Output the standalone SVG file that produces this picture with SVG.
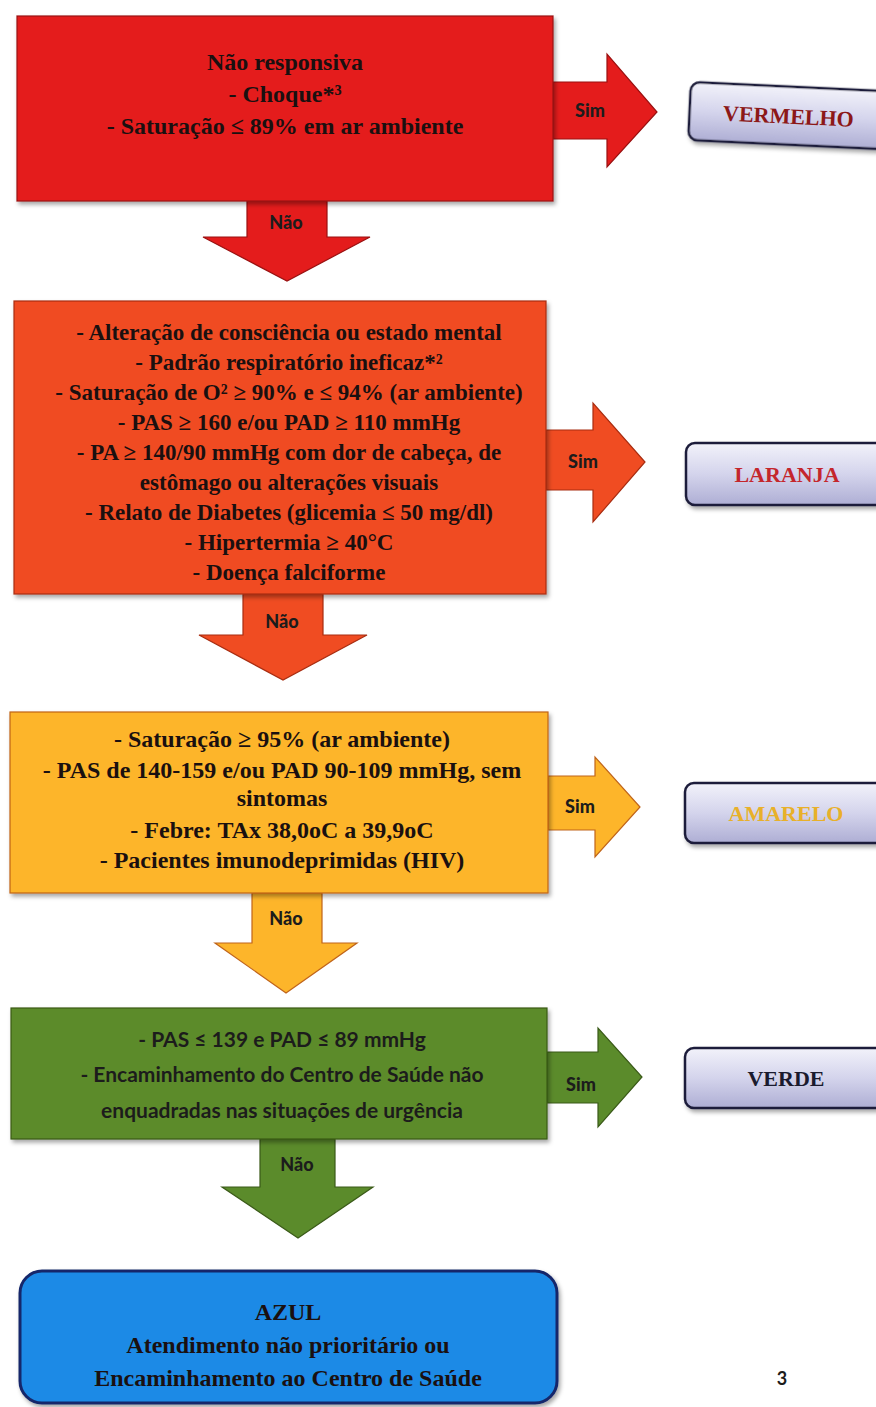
<svg xmlns="http://www.w3.org/2000/svg" width="876" height="1407" viewBox="0 0 876 1407">
<defs>
  <linearGradient id="lbl" x1="0" y1="0" x2="0" y2="1">
    <stop offset="0" stop-color="#f2f2fa"/>
    <stop offset="0.5" stop-color="#d4d4ec"/>
    <stop offset="1" stop-color="#aeaed4"/>
  </linearGradient>
  <filter id="sh" x="-10%" y="-10%" width="130%" height="130%">
    <feDropShadow dx="2" dy="3" stdDeviation="2" flood-color="#000" flood-opacity="0.35"/>
  </filter>
  <style>
    .serif{font-family:"Liberation Serif","Times New Roman",serif;font-weight:bold;text-anchor:middle;fill:#1a1010}
    .sans{font-family:Lato,"Open Sans","Liberation Sans",sans-serif;font-weight:bold;text-anchor:middle;fill:#1c1c1c}
    .t23{font-size:23px}
    .t24{font-size:24px}
    .lab{font-size:18px;font-weight:900}
    .lbox{fill:url(#lbl);stroke:#1e1e3a;stroke-width:2.5;filter:url(#sh)}
    .red{fill:#e41c1c;stroke:#9a1010;stroke-width:1.2}
    .orange{fill:#f04c22;stroke:#a82c10;stroke-width:1.2}
    .yellow{fill:#fdb52a;stroke:#c0641a;stroke-width:1.2}
    .green{fill:#5b8b2b;stroke:#3a5a18;stroke-width:1.2}
  </style>
</defs>
<rect width="876" height="1407" fill="#ffffff"/>

<g id="connectors">
  <g id="red-sim">
    <polygon class="red" points="553,82 607,82 607,54 657,112 607,167 607,139 553,139"/>
    <text class="sans lab" x="590" y="117">Sim</text>
  </g>
  <g id="red-nao">
    <polygon class="red" points="247,201 327,201 327,237 370,237 287,281 203,237 247,237"/>
    <text class="sans lab" x="286" y="229">Não</text>
  </g>
  <g id="orange-sim">
    <polygon class="orange" points="546,430 593,430 593,403 645,462 593,522 593,490 546,490"/>
    <text class="sans lab" x="583" y="468">Sim</text>
  </g>
  <g id="orange-nao">
    <polygon class="orange" points="243,594 323,594 323,635 367,635 283,680 199,635 243,635"/>
    <text class="sans lab" x="282" y="628">Não</text>
  </g>
  <g id="yellow-sim">
    <polygon class="yellow" points="548,776 595,776 595,757 640,807 595,857 595,830 548,830"/>
    <text class="sans lab" x="580" y="813">Sim</text>
  </g>
  <g id="yellow-nao">
    <polygon class="yellow" points="252,893 322,893 322,943 357,943 286,993 215,943 252,943"/>
    <text class="sans lab" x="286" y="925">Não</text>
  </g>
  <g id="green-sim">
    <polygon class="green" points="547,1052 598,1052 598,1028 642,1077 598,1127 598,1103 547,1103"/>
    <text class="sans lab" x="581" y="1091">Sim</text>
  </g>
  <g id="green-nao">
    <polygon class="green" points="260,1139 335,1139 335,1187 373,1187 298,1238 222,1187 260,1187"/>
    <text class="sans lab" x="297" y="1171">Não</text>
  </g>
</g>

<g id="node-red">
  <rect class="red" x="17" y="16" width="536" height="185" filter="url(#sh)"/>
  <text class="serif t24" x="285" y="70">Não responsiva</text>
  <text class="serif t24" x="285" y="102">- Choque*³</text>
  <text class="serif t24" x="285" y="134">- Saturação ≤ 89% em ar ambiente</text>
</g>

<g id="node-orange">
  <rect class="orange" x="14" y="301" width="532" height="293" filter="url(#sh)"/>
  <text class="serif t23" x="289" y="340">- Alteração de consciência ou estado mental</text>
  <text class="serif t23" x="289" y="370">- Padrão respiratório ineficaz*²</text>
  <text class="serif t23" x="289" y="400">- Saturação de O² ≥ 90% e ≤ 94% (ar ambiente)</text>
  <text class="serif t23" x="289" y="430">- PAS ≥ 160 e/ou PAD ≥ 110 mmHg</text>
  <text class="serif t23" x="289" y="460">- PA ≥ 140/90 mmHg com dor de cabeça, de</text>
  <text class="serif t23" x="289" y="490">estômago ou alterações visuais</text>
  <text class="serif t23" x="289" y="520">- Relato de Diabetes (glicemia ≤ 50 mg/dl)</text>
  <text class="serif t23" x="289" y="550">- Hipertermia ≥ 40°C</text>
  <text class="serif t23" x="289" y="580">- Doença falciforme</text>
</g>

<g id="node-yellow">
  <rect class="yellow" x="10" y="712" width="538" height="181" filter="url(#sh)"/>
  <text class="serif t24" x="282" y="747">- Saturação ≥ 95% (ar ambiente)</text>
  <text class="serif t24" x="282" y="778">- PAS de 140-159 e/ou PAD 90-109 mmHg, sem</text>
  <text class="serif t24" x="282" y="806">sintomas</text>
  <text class="serif t24" x="282" y="838">- Febre: TAx 38,0oC a 39,9oC</text>
  <text class="serif t24" x="282" y="868">- Pacientes imunodeprimidas (HIV)</text>
</g>

<g id="node-green">
  <rect class="green" x="11" y="1008" width="536" height="131" filter="url(#sh)"/>
  <text class="sans" font-size="21" x="282" y="1047">- PAS ≤ 139 e PAD ≤ 89 mmHg</text>
  <text class="sans" font-size="21" x="282" y="1082">- Encaminhamento do Centro de Saúde não</text>
  <text class="sans" font-size="21" x="282" y="1118">enquadradas nas situações de urgência</text>
</g>

<g id="node-blue">
  <rect x="20" y="1271" width="537" height="132" rx="22" fill="#1f8ae6" stroke="#14286a" stroke-width="3" filter="url(#sh)"/>
  <text class="serif t24" x="288" y="1320">AZUL</text>
  <text class="serif t24" x="288" y="1353">Atendimento não prioritário ou</text>
  <text class="serif t24" x="288" y="1386">Encaminhamento ao Centro de Saúde</text>
</g>

<g id="label-vermelho" transform="rotate(2.7 691 82)">
  <rect class="lbox" x="691" y="82" width="200" height="58" rx="9"/>
  <text class="serif t24" x="790" y="119" style="font-size:22px;fill:#8c1818">VERMELHO</text>
</g>
<g id="label-laranja">
  <rect class="lbox" x="686" y="443" width="205" height="62" rx="9"/>
  <text class="serif" x="787" y="482" style="font-size:22px;fill:#c4262c">LARANJA</text>
</g>
<g id="label-amarelo">
  <rect class="lbox" x="685" y="783" width="205" height="60" rx="9"/>
  <text class="serif" x="786" y="821" style="font-size:22px;fill:#e8b02a">AMARELO</text>
</g>
<g id="label-verde">
  <rect class="lbox" x="685" y="1048" width="205" height="60" rx="9"/>
  <text class="serif" x="786" y="1086" style="font-size:22px;fill:#1a1a2e">VERDE</text>
</g>

<g id="page-number">
  <text class="sans" font-size="18" x="782" y="1385">3</text>
</g>
</svg>
